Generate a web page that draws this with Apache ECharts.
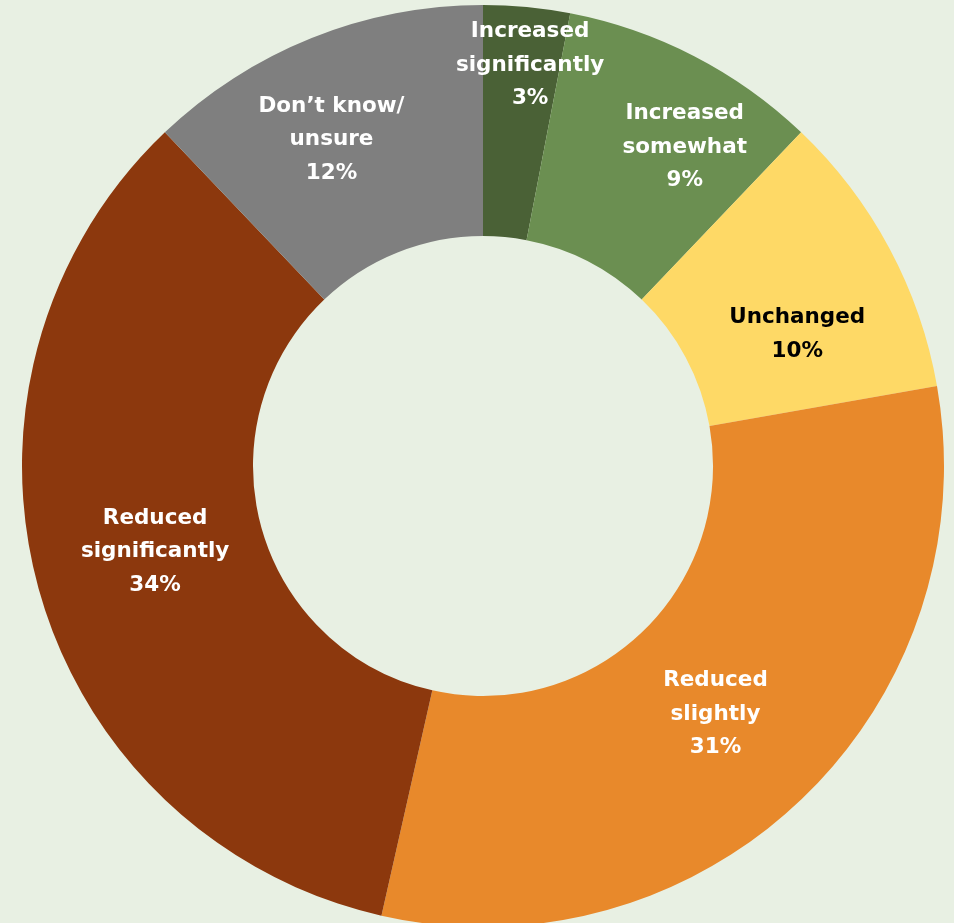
<!DOCTYPE html>
<html>
<head>
<meta charset="utf-8">
<script src="https://cdn.jsdelivr.net/npm/echarts@6/dist/echarts.min.js"></script>
<style>
  html, body { margin: 0; padding: 0; background: #E8F0E3; }
  #chart { width: 954px; height: 923px; }
</style>
</head>
<body>
<div id="chart"></div>
<script>
// Survey response categories, clockwise from 12 o'clock
const categories = [
  'Increased\nsignificantly',
  'Increased\nsomewhat',
  'Unchanged',
  'Reduced\nslightly',
  'Reduced\nsignificantly',
  'Don\u2019t know/\nunsure'
];
// Share of respondents, percent
const shares = [3, 9, 10, 31, 34, 12];
const sliceColors = ['#4A6136', '#6B8F51', '#FED966', '#E8892B', '#8C380D', '#7F7F7F'];
const labelColors = ['#fff', '#fff', '#000', '#fff', '#fff', '#fff'];
// Nudges for each slice label from its default mid-ring spot
const labelOffsets = [[14, -54], [42, -9], [7, 33], [-8, -4], [8, -7], [-22, -3]];

const data = categories.map((name, i) => ({
  name: name,
  value: shares[i],
  itemStyle: { color: sliceColors[i] },
  label: { color: labelColors[i], offset: labelOffsets[i] }
}));

const chart = echarts.init(document.getElementById('chart'));
chart.setOption({
  animation: false,
  backgroundColor: '#E8F0E3',
  series: [{
    type: 'pie',
    center: [483, 466],
    radius: [230, 461],
    startAngle: 90,
    clockwise: true,
    avoidLabelOverlap: false,
    itemStyle: { borderWidth: 0 },
    label: {
      show: true,
      position: 'inside',
      formatter: p => p.name + '\n' + p.value + '%',
      fontFamily: 'DejaVu Sans',
      fontWeight: 'bold',
      fontSize: 21.5,
      lineHeight: 33.5,
      align: 'center'
    },
    labelLine: { show: false },
    data: data
  }]
});
</script>
</body>
</html>
